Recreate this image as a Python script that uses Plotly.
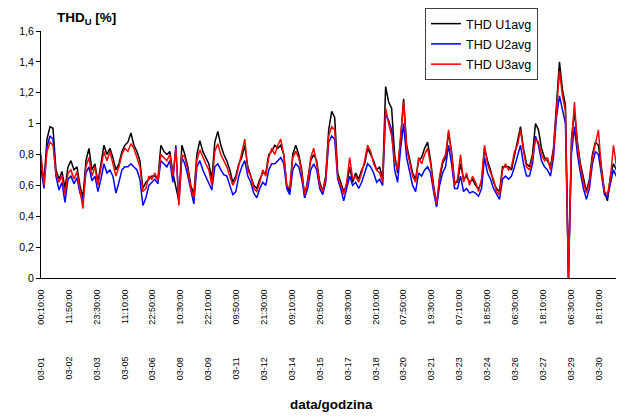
import plotly.graph_objects as go

STEP = 23
N_SAMPLES = 4460

u1avg = [0.76, 0.62, 0.90, 0.98, 0.97, 0.70, 0.64, 0.69, 0.58, 0.72,
         0.76, 0.70, 0.72, 0.60, 0.52, 0.76, 0.84, 0.70, 0.74, 0.62,
         0.74, 0.86, 0.80, 0.84, 0.78, 0.70, 0.74, 0.82, 0.86, 0.88,
         0.94, 0.86, 0.82, 0.76, 0.58, 0.62, 0.64, 0.66, 0.66, 0.64,
         0.86, 0.82, 0.80, 0.82, 0.68, 0.60, 0.50, 0.86, 0.80, 0.72,
         0.60, 0.54, 0.80, 0.89, 0.82, 0.78, 0.74, 0.64, 0.88, 0.95,
         0.86, 0.80, 0.76, 0.70, 0.62, 0.66, 0.74, 0.78, 0.86, 0.72,
         0.66, 0.60, 0.58, 0.64, 0.68, 0.68, 0.80, 0.82, 0.86, 0.84,
         0.86, 0.80, 0.60, 0.56, 0.80, 0.86, 0.80, 0.70, 0.52, 0.64,
         0.76, 0.80, 0.76, 0.62, 0.56, 0.66, 0.96, 1.08, 1.04, 0.68,
         0.62, 0.56, 0.60, 0.72, 0.62, 0.68, 0.64, 0.70, 0.74, 0.84,
         0.80, 0.76, 0.70, 0.72, 0.64, 1.24, 1.14, 1.10, 0.80, 0.68,
         0.90, 1.16, 0.86, 0.76, 0.68, 0.64, 0.76, 0.78, 0.84, 0.88,
         0.76, 0.60, 0.47, 0.64, 0.74, 0.78, 0.94, 0.82, 0.62, 0.62,
         0.74, 0.64, 0.66, 0.62, 0.64, 0.60, 0.58, 0.62, 0.84, 0.76,
         0.70, 0.62, 0.58, 0.56, 0.72, 0.72, 0.72, 0.70, 0.80, 0.90,
         0.98, 0.84, 0.74, 0.72, 0.80, 1.00, 0.96, 0.84, 0.78, 0.76,
         0.72, 0.84, 1.12, 1.40, 1.22, 1.12, 0.00, 0.90, 1.08, 0.88,
         0.74, 0.64, 0.56, 0.64, 0.80, 0.88, 0.86, 0.72, 0.56, 0.50,
         0.66, 0.74, 0.70, 0.62]

u2avg = [0.70, 0.58, 0.85, 0.92, 0.90, 0.66, 0.57, 0.62, 0.49, 0.64,
         0.66, 0.61, 0.65, 0.55, 0.50, 0.68, 0.72, 0.63, 0.66, 0.56,
         0.64, 0.74, 0.68, 0.70, 0.66, 0.55, 0.62, 0.70, 0.72, 0.72,
         0.74, 0.72, 0.70, 0.64, 0.47, 0.52, 0.60, 0.62, 0.64, 0.61,
         0.76, 0.74, 0.72, 0.76, 0.62, 0.86, 0.48, 0.78, 0.74, 0.66,
         0.56, 0.48, 0.72, 0.76, 0.70, 0.66, 0.62, 0.57, 0.72, 0.74,
         0.70, 0.67, 0.66, 0.60, 0.54, 0.56, 0.66, 0.72, 0.76, 0.66,
         0.62, 0.55, 0.52, 0.58, 0.62, 0.60, 0.70, 0.74, 0.74, 0.76,
         0.78, 0.74, 0.58, 0.54, 0.70, 0.74, 0.72, 0.64, 0.52, 0.58,
         0.70, 0.74, 0.70, 0.58, 0.54, 0.62, 0.88, 0.92, 0.90, 0.64,
         0.58, 0.50, 0.58, 0.66, 0.60, 0.62, 0.58, 0.62, 0.68, 0.74,
         0.72, 0.68, 0.62, 0.64, 0.60, 1.06, 1.02, 0.96, 0.70, 0.62,
         0.84, 1.00, 0.78, 0.68, 0.60, 0.56, 0.68, 0.66, 0.70, 0.72,
         0.68, 0.56, 0.46, 0.60, 0.68, 0.72, 0.86, 0.74, 0.58, 0.58,
         0.66, 0.56, 0.58, 0.55, 0.56, 0.55, 0.53, 0.58, 0.78, 0.68,
         0.64, 0.58, 0.54, 0.51, 0.64, 0.66, 0.64, 0.66, 0.72, 0.80,
         0.86, 0.74, 0.66, 0.66, 0.74, 0.92, 0.86, 0.76, 0.72, 0.70,
         0.66, 0.78, 1.04, 1.18, 1.08, 1.00, 0.00, 0.80, 0.98, 0.80,
         0.68, 0.58, 0.51, 0.58, 0.74, 0.82, 0.80, 0.66, 0.54, 0.52,
         0.60, 0.70, 0.66, 0.58]

u3avg = [0.80, 0.60, 0.82, 0.88, 0.86, 0.68, 0.62, 0.66, 0.54, 0.68,
         0.70, 0.64, 0.69, 0.56, 0.45, 0.72, 0.78, 0.66, 0.72, 0.60,
         0.70, 0.82, 0.76, 0.82, 0.74, 0.66, 0.72, 0.80, 0.84, 0.82,
         0.87, 0.84, 0.78, 0.72, 0.56, 0.58, 0.66, 0.64, 0.68, 0.63,
         0.80, 0.78, 0.76, 0.80, 0.66, 0.84, 0.47, 0.80, 0.78, 0.70,
         0.58, 0.52, 0.76, 0.83, 0.78, 0.74, 0.70, 0.60, 0.82, 0.87,
         0.80, 0.76, 0.72, 0.66, 0.60, 0.64, 0.72, 0.80, 0.90, 0.70,
         0.66, 0.58, 0.56, 0.62, 0.70, 0.66, 0.78, 0.84, 0.80, 0.86,
         0.90, 0.80, 0.60, 0.58, 0.78, 0.82, 0.78, 0.68, 0.54, 0.62,
         0.78, 0.84, 0.74, 0.60, 0.56, 0.64, 0.92, 0.98, 0.96, 0.66,
         0.60, 0.54, 0.62, 0.78, 0.64, 0.66, 0.62, 0.68, 0.76, 0.86,
         0.82, 0.74, 0.70, 0.68, 0.62, 1.10, 1.00, 0.92, 0.76, 0.70,
         0.92, 1.14, 0.84, 0.74, 0.66, 0.62, 0.78, 0.74, 0.80, 0.84,
         0.74, 0.58, 0.48, 0.66, 0.76, 0.80, 0.96, 0.80, 0.60, 0.64,
         0.80, 0.62, 0.68, 0.60, 0.66, 0.62, 0.56, 0.64, 0.86, 0.74,
         0.68, 0.64, 0.56, 0.54, 0.70, 0.74, 0.70, 0.72, 0.82, 0.86,
         0.96, 0.82, 0.72, 0.70, 0.78, 0.90, 0.88, 0.80, 0.76, 0.78,
         0.70, 0.82, 1.10, 1.34, 1.18, 1.08, 0.00, 0.86, 1.14, 0.86,
         0.72, 0.62, 0.55, 0.62, 0.78, 0.86, 0.96, 0.70, 0.56, 0.54,
         0.64, 0.86, 0.72, 0.60]

tick_labels = ["03-01 00:10:00", "03-02 11:50:00", "03-03 23:30:00", "03-05 11:10:00",
               "03-06 22:50:00", "03-08 10:30:00", "03-09 22:10:00", "03-11 09:50:00",
               "03-12 21:30:00", "03-14 09:10:00", "03-15 20:50:00", "03-17 08:30:00",
               "03-18 20:10:00", "03-20 07:50:00", "03-21 19:30:00", "03-23 07:10:00",
               "03-24 18:50:00", "03-26 06:30:00", "03-27 18:10:00", "03-29 06:30:00",
               "03-30 18:10:00"]
LABEL_EVERY = 214
TICK_EVERY = 250

x = [i * STEP for i in range(len(u3avg))]
tickvals = [k * LABEL_EVERY for k in range(len(tick_labels))]
NB = "\u00a0"
ticktext = [t.replace(" ", NB * 13) for t in tick_labels]

FONT = "Liberation Sans, Arial, sans-serif"

# the page body has an 8px margin: the figure is drawn at (8, 8)
W, H = 616, 411

fig = go.Figure()
for name, vals, col, grp in [("THD U1avg", u1avg, "#000000", "a"),
                             ("THD U2avg", u2avg, "#0000FF", "b"),
                             ("THD U3avg", u3avg, "#FF0000", "c")]:
    fig.add_trace(go.Scatter(x=x, y=vals, mode="lines", name=name, legendgroup=grp,
                             line=dict(color=col, width=1.5)))

fig.update_layout(
    width=W, height=H,
    margin=dict(l=33, r=2, t=23, b=141, autoexpand=False),
    paper_bgcolor="white", plot_bgcolor="white",
    separators=",.",
    font=dict(family=FONT, color="#000000", size=11),
    showlegend=True,
    legend=dict(x=(425 - 41) / 581, y=1.0 + 23 / 247, xanchor="left", yanchor="top",
                bgcolor="white", bordercolor="#404040", borderwidth=1,
                font=dict(family=FONT, size=12.5, color="#000000"),
                traceorder="grouped", tracegroupgap=1),
    xaxis=dict(range=[0, N_SAMPLES - 1], tickmode="array", tickvals=tickvals, ticktext=ticktext,
               tickangle=-90, tickfont=dict(family=FONT, size=9, color="#000000"),
               showline=True, linecolor="#000000", linewidth=1, showgrid=False, zeroline=False,
               ticks="", ticklabelstandoff=7),
    xaxis2=dict(range=[0, N_SAMPLES - 1], overlaying="x", anchor="y", side="bottom",
                tickmode="linear", tick0=0, dtick=TICK_EVERY, ticks="outside", ticklen=4,
                tickcolor="#000000", showticklabels=False, showline=False, showgrid=False,
                zeroline=False),
    yaxis=dict(range=[0, 1.6], tick0=0, dtick=0.2, ticks="outside", ticklen=4,
               tickcolor="#000000", tickfont=dict(family=FONT, size=10.5, color="#000000"),
               showline=True, linecolor="#000000", linewidth=1, showgrid=False, zeroline=False),
    annotations=[dict(text="<b>THD<sub>U</sub> [%]</b>", xref="paper", yref="paper",
                      x=(55 - 41) / 581, y=(278 - 19) / 247, xanchor="left", yanchor="middle",
                      showarrow=False, font=dict(family=FONT, size=13.5, color="#000000")),
                 dict(text="<b>data/godzina</b>", xref="paper", yref="paper",
                      x=0.5, y=-(404 - 278) / 247, xanchor="center", yanchor="middle",
                      showarrow=False, font=dict(family=FONT, size=13.5, color="#000000"))],
)

fig.write_html("out.html", config={"displayModeBar": False})
